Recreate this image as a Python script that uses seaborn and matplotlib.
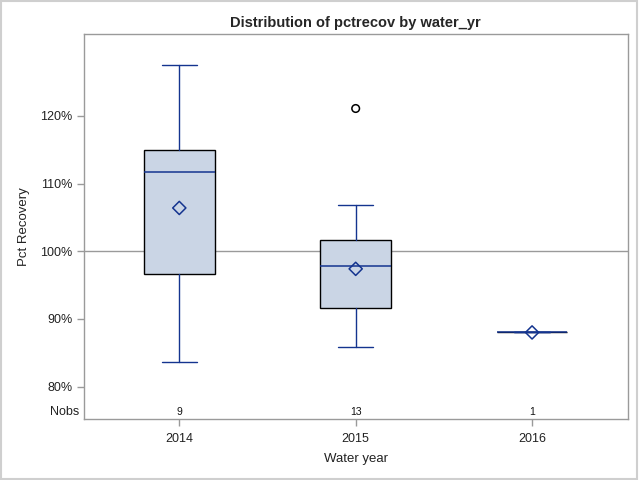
import matplotlib
matplotlib.use("Agg")
import matplotlib.pyplot as plt
import seaborn as sns
import pandas as pd
from matplotlib.patches import Rectangle

# ---- data ----
years = ["2014", "2015", "2016"]
nobs = [9, 13, 1]
q1 = [96.6, 91.6, 88.0]
median = [111.7, 97.8, 88.0]
q3 = [114.9, 101.6, 88.0]
whis_lo = [83.6, 85.8, 88.0]
whis_hi = [127.5, 106.8, 88.0]
means = [106.4, 97.4, 88.0]
outlier_year = ["2015"]
outlier_val = [121.1]

sns.set_style("white")
plt.rcParams["font.family"] = ["Liberation Sans", "DejaVu Sans"]

fig = plt.figure(figsize=(6.4, 4.8), dpi=100)
ax = fig.add_axes([0.1305, 0.127, 0.8505, 0.802])

blue = "#14348F"
fill = "#CAD5E5"

stats = []
for i, y in enumerate(years):
    stats.append(dict(label=y, q1=q1[i], med=median[i], q3=q3[i],
                      whislo=whis_lo[i], whishi=whis_hi[i], fliers=[]))

pos = list(range(len(years)))
ax.bxp(stats, positions=pos, widths=0.40, capwidths=0.20, patch_artist=True,
       showfliers=False, manage_ticks=False,
       boxprops=dict(facecolor=fill, edgecolor="black", linewidth=1.0),
       medianprops=dict(color=blue, linewidth=1.1, zorder=5),
       whiskerprops=dict(color=blue, linewidth=1.0),
       capprops=dict(color=blue, linewidth=1.0))

# reference line
ax.axhline(100, color="#9a9a9a", linewidth=1.0, zorder=1)

mean_df = pd.DataFrame({"x": pos, "mean": means})
sns.scatterplot(data=mean_df, x="x", y="mean", marker="D", s=45,
                facecolors="none", edgecolor=blue, linewidth=1.1, ax=ax, zorder=6)

out_df = pd.DataFrame({"x": [years.index(y) for y in outlier_year], "val": outlier_val})
sns.scatterplot(data=out_df, x="x", y="val", marker="o", s=30,
                facecolors="none", edgecolor="black", linewidth=1.1, ax=ax, zorder=6)

ax.set_xlim(-0.543, 2.543)
ax.set_ylim(75.2, 132.1)
ax.set_yticks([80, 90, 100, 110, 120])
ax.set_yticklabels([f"{v}%" for v in [80, 90, 100, 110, 120]])
ax.set_xticks(pos)
ax.set_xticklabels(years)
ax.tick_params(axis="both", direction="out", length=5, width=1, color="#9a9a9a",
               labelsize=9, labelcolor="#222222", bottom=True, left=True)
ax.tick_params(axis="x", pad=5)
ax.tick_params(axis="y", pad=3)
for sp in ax.spines.values():
    sp.set_color("#9a9a9a")
    sp.set_linewidth(1.0)

# Nobs inset row
nobs_y = 76.3
for i, n in enumerate(nobs):
    ax.text(pos[i], nobs_y, str(n), ha="center", va="center", fontsize=7.5, color="#111111")
ax.text(-0.008, nobs_y, "Nobs", transform=ax.get_yaxis_transform(), ha="right",
        va="center", fontsize=9, color="#222222")

ax.set_xlabel("Water year", fontsize=9.5, color="#222222", labelpad=6)
ax.set_ylabel("Pct Recovery", fontsize=9.5, color="#222222", labelpad=7)
ax.set_title("Distribution of pctrecov by water_yr", fontsize=10.5, fontweight="bold",
             pad=5)

fig.patches.append(Rectangle((0.002, 0.003), 0.994, 0.994, transform=fig.transFigure,
                             fill=False, edgecolor="#cfcfcf", linewidth=1.5))

fig.savefig("out.png", dpi=100)
